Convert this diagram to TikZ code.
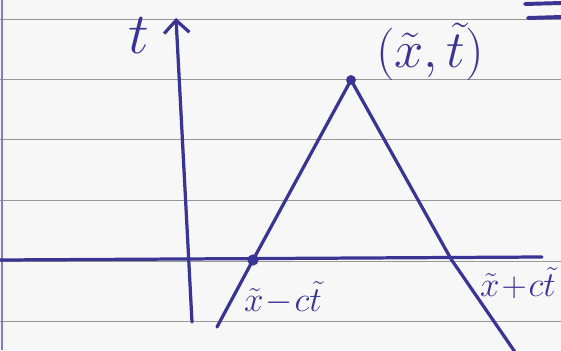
\documentclass[tikz,border=0pt]{standalone}
\usepackage{xcolor}
\usepackage{tikz}
\usetikzlibrary{arrows.meta}
\definecolor{inkblue}{RGB}{58,52,148}
\definecolor{ruleline}{RGB}{150,150,150}
\definecolor{paper}{RGB}{247,247,247}
\definecolor{marginline}{RGB}{130,125,195}

\begin{document}
\begin{tikzpicture}[x=0.025cm, y=-0.025cm,
  ink/.style={draw=inkblue, line width=2.3pt, line cap=round, line join=round},
  inkdot/.style={circle, fill=inkblue, inner sep=0pt, minimum size=7pt},
  lbl/.style={text=inkblue, font=\huge, inner sep=1pt}]
% notebook page
\fill[paper] (0,0) rectangle (561,350);
\useasboundingbox (0,0) rectangle (561,350);
\foreach \y in {19,79,139,200,261,321}
  \draw[ruleline, line width=0.5pt] (0,\y) -- (561,\y);
\draw[marginline, line width=1.2pt] (2,0) -- (2,350);
\draw[ink, line width=2.8pt] (525,4) -- (561,3);
\draw[ink, line width=2.8pt] (528,18) -- (561,17);

% axes
\coordinate (tbot) at (192,322);
\coordinate (ttop) at (176,18);
\draw[ink, -{Straight Barb[length=9pt, width=18pt]}] (tbot) -- (ttop);
\node[lbl, scale=2] (tlab) at (139,36) {$t$};
\coordinate (xleft) at (0,260);
\coordinate (xright) at (542,257);
\draw[ink] (xleft) -- (xright);

% characteristic triangle
\node[inkdot] (apex) at (351,80) {};
\node[inkdot, minimum size=8pt] (lcross) at (253,260) {};
\coordinate (rcross) at (451,259);
\coordinate (lfoot) at (217,327);
\coordinate (rfoot) at (515,352);
\draw[ink] (lfoot) -- (lcross.center) -- (apex.center) -- (rcross) -- (rfoot);

% labels
\node[lbl, scale=1.8] (peak) at (430,52) {$(\tilde{x},\tilde{t})$};
\node[lbl, scale=1.2] (lefttxt) at (283,298) {$\tilde{x}\!-\!c\tilde{t}$};
\node[lbl, scale=1.2] (righttxt) at (518,283) {$\tilde{x}\!+\!c\tilde{t}$};
\end{tikzpicture}
\end{document}
